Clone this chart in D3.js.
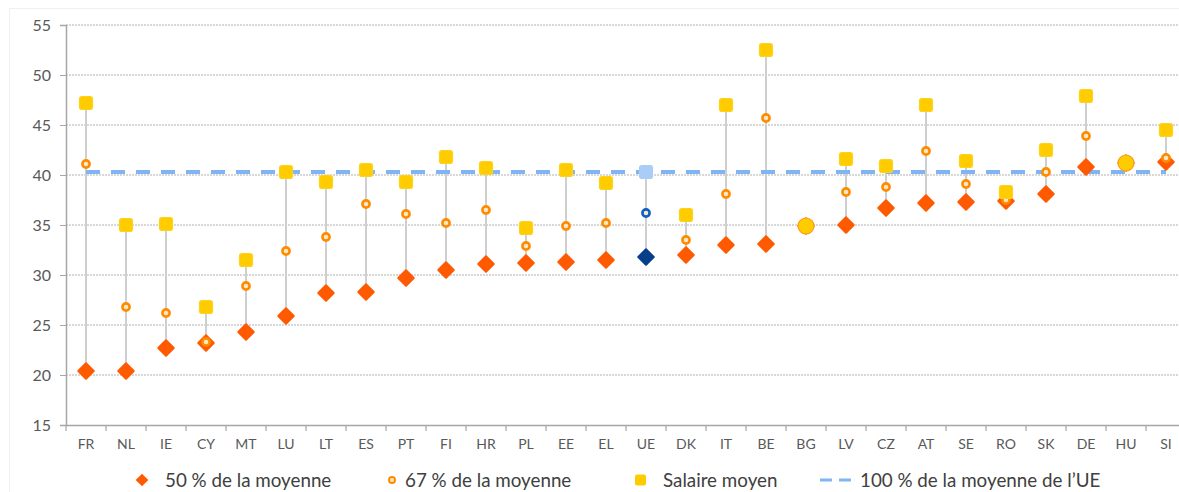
<!DOCTYPE html>
<html><head><meta charset="utf-8">
<script src="https://cdn.jsdelivr.net/npm/d3@7"></script>
<style>body{margin:0;background:#fff;}svg{display:block;}</style>
</head><body>
<svg id="c" width="1179" height="492"></svg>
<script>
const categories = ["FR","NL","IE","CY","MT","LU","LT","ES","PT","FI","HR","PL","EE","EL","UE","DK","IT","BE","BG","LV","CZ","AT","SE","RO","SK","DE","HU","SI"];
const pct50   = [20.4,20.4,22.7,23.2,24.3,25.9,28.2,28.3,29.7,30.5,31.1,31.2,31.3,31.5,31.8,32.0,33.0,33.1,34.9,35.0,36.7,37.2,37.3,37.4,38.1,40.8,41.2,41.3];
const pct67   = [41.1,26.8,26.2,23.3,28.9,32.4,33.8,37.1,36.1,35.2,36.5,32.9,34.9,35.2,36.2,33.5,38.1,45.7,34.9,38.3,38.8,42.4,39.1,37.5,40.3,43.9,41.2,41.7];
const salaire = [47.2,35.0,35.1,26.8,31.5,40.3,39.3,40.5,39.3,41.8,40.7,34.7,40.5,39.2,40.3,36.0,47.0,52.5,34.9,41.6,40.9,47.0,41.4,38.3,42.5,47.9,41.2,44.5];
const euLine = 40.3;
const yTicks = [15,20,25,30,35,40,45,50,55];
const legendLabels = ["50 % de la moyenne","67 % de la moyenne","Salaire moyen","100 % de la moyenne de l\u2019UE"];

(function(){
const svg = d3.select("#c");
const font = "Lato, 'Open Sans', sans-serif";
const mLeft = 66, mRight = 1186, mTop = 25, mBottom = 425;
const x = d3.scaleBand().domain(categories).range([mLeft, mRight]).padding(0);
const y = d3.scaleLinear().domain([15,55]).range([mBottom, mTop]);
const cx = c => x(c) + x.bandwidth()/2;

svg.append("rect").attr("x",9.5).attr("y",8.5).attr("width",1180).attr("height",500)
  .attr("fill","none").attr("stroke","#f0f0f0");

svg.append("g").selectAll("line").data(yTicks.filter(t=>t>15)).join("line")
  .attr("x1",mLeft).attr("x2",mRight).attr("y1",d=>y(d)).attr("y2",d=>y(d))
  .attr("stroke","#b0b0b0").attr("stroke-width",1).attr("stroke-dasharray","2,1");

const yAxis = svg.append("g").attr("transform",`translate(${mLeft},0)`)
  .call(d3.axisLeft(y).tickValues(yTicks).tickSize(6).tickPadding(9).tickFormat(d3.format("d")));
yAxis.select(".domain").attr("stroke","#a6a6a6").attr("stroke-width",1.5);
yAxis.selectAll(".tick line").attr("stroke","#a6a6a6");
yAxis.selectAll("text").attr("fill","#595959").style("font-family",font).style("font-size","16px");

const xAxis = svg.append("g").attr("transform",`translate(0,${mBottom})`)
  .call(d3.axisBottom(x).tickSize(0).tickPadding(14));
xAxis.select(".domain").attr("stroke","#a6a6a6").attr("stroke-width",1.5);
xAxis.selectAll("text").attr("fill","#595959").style("font-family",font).style("font-size","14px");
xAxis.selectAll(".bt").data(categories).join("line").attr("class","bt")
  .attr("x1",d=>x(d)).attr("x2",d=>x(d)).attr("y1",0).attr("y2",6)
  .attr("stroke","#a6a6a6").attr("stroke-width",1.2);

const data = categories.map((c,i)=>({c, a:pct50[i], b:pct67[i], s:salaire[i], eu:c==="UE"}));

svg.append("g").selectAll("line").data(data).join("line")
  .attr("x1",d=>cx(d.c)).attr("x2",d=>cx(d.c))
  .attr("y1",d=>y(Math.min(d.a,d.b,d.s))).attr("y2",d=>y(Math.max(d.a,d.b,d.s)))
  .attr("stroke","#cfcfcf").attr("stroke-width",2);

svg.append("line").attr("x1",cx("FR")).attr("x2",cx("SI")).attr("y1",y(euLine)).attr("y2",y(euLine))
  .attr("stroke","#7fb5f5").attr("stroke-width",4).attr("stroke-dasharray","14,11");

const diamond = d3.symbol().type(d3.symbolSquare).size(120);
svg.append("g").selectAll("path").data(data).join("path")
  .attr("d",diamond())
  .attr("transform",d=>`translate(${cx(d.c)},${y(d.a)}) rotate(45)`)
  .attr("fill",d=>d.eu?"#073f8c":"#ff5a00")
  .attr("stroke",d=>d.eu?"#073f8c":"#ff5a00").attr("stroke-width",2).attr("stroke-linejoin","round");

svg.append("g").selectAll("circle").data(data).join("circle")
  .attr("cx",d=>cx(d.c)).attr("cy",d=>y(d.b)).attr("r",3.6)
  .attr("fill","#fde7c4").attr("stroke",d=>d.eu?"#0d5ec7":"#ff8c00").attr("stroke-width",2.6);

// salaire markers: round and larger where all three values coincide
const sz = d => (d.s===d.a) ? 16 : 13;
svg.append("g").selectAll("rect").data(data).join("rect")
  .attr("x",d=>cx(d.c)-sz(d)/2).attr("y",d=>y(d.s)-sz(d)/2).attr("width",sz).attr("height",sz)
  .attr("rx",d=>(d.s===d.a)?8:2.5)
  .attr("fill",d=>d.eu?"#a9cdf7":"#ffcc00")
  .attr("stroke",d=>d.eu?"#a9cdf7":(d.s===d.a?"#ff9a1a":"#ffd21a")).attr("stroke-width",1.2);

const lg = svg.append("g").style("font-family",font).style("font-size","18.8px").attr("fill","#404040");
const ly = 480;
lg.append("path").attr("d",d3.symbol().type(d3.symbolSquare).size(80)())
  .attr("transform",`translate(142,${ly}) rotate(45)`).attr("fill","#ff5a00");
lg.append("text").attr("x",165).attr("y",ly+6.5).text(legendLabels[0]);
lg.append("circle").attr("cx",392).attr("cy",ly).attr("r",3).attr("fill","#fde7c4").attr("stroke","#ff8c00").attr("stroke-width",2);
lg.append("text").attr("x",405).attr("y",ly+6.5).text(legendLabels[1]);
lg.append("rect").attr("x",635).attr("y",ly-5.5).attr("width",11).attr("height",11).attr("rx",2).attr("fill","#ffcc00");
lg.append("text").attr("x",663).attr("y",ly+6.5).text(legendLabels[2]);
lg.append("line").attr("x1",820).attr("x2",858).attr("y1",ly).attr("y2",ly)
  .attr("stroke","#7fb5f5").attr("stroke-width",3).attr("stroke-dasharray","12,7");
lg.append("text").attr("x",860).attr("y",ly+6.5).text(legendLabels[3]);
})();
</script>
</body></html>
